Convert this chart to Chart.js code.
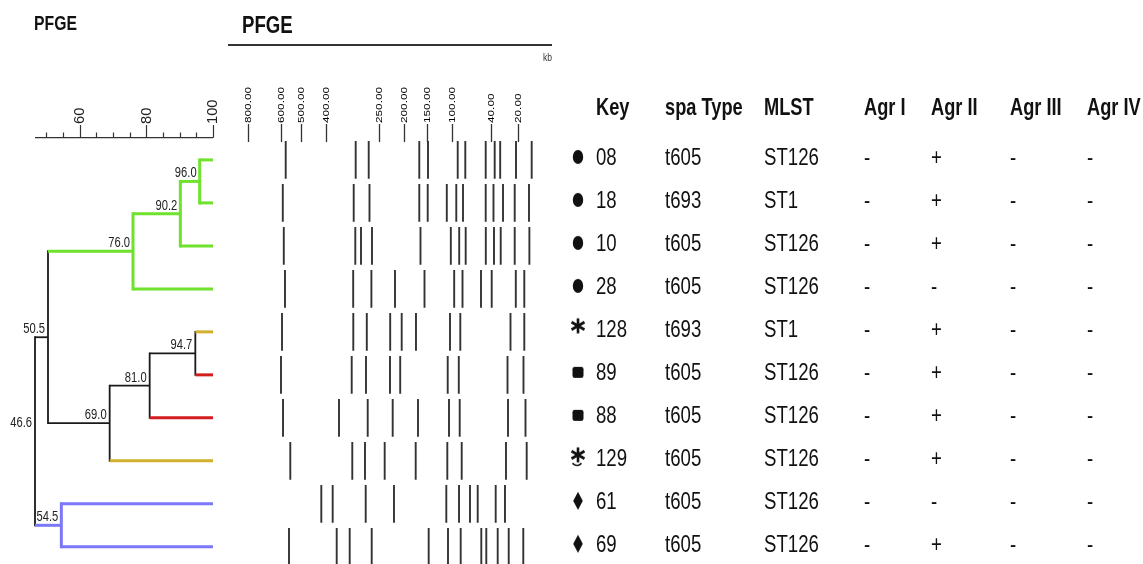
<!DOCTYPE html>
<html>
<head>
<meta charset="utf-8">
<script src="https://cdn.jsdelivr.net/npm/chart.js@4.4.1/dist/chart.umd.min.js"></script>
<style>
    html, body { margin: 0; padding: 0; background: #fff; }
    #wrap { position: relative; width: 1143px; height: 564px; overflow: hidden; }
    #wrap canvas { position: absolute; top: 0; }
</style>
</head>
<body>
<div id="wrap">
    <canvas id="tree" width="228" height="564" style="left:0"></canvas>
    <canvas id="gel" width="332" height="564" style="left:228px"></canvas>
    <canvas id="table" width="583" height="564" style="left:560px"></canvas>
</div>
<script>
// isolates, top to bottom (same order as the dendrogram leaves)
const isolateKeys = ["08", "18", "10", "28", "128", "89", "88", "129", "61", "69"];
const keySymbols = ["dot", "dot", "dot", "dot", "star", "square", "square", "starSmile", "diamond", "diamond"];
const spaTypes = ["t605", "t693", "t605", "t605", "t693", "t605", "t605", "t605", "t605", "t605"];
const mlstTypes = ["ST126", "ST1", "ST126", "ST126", "ST1", "ST126", "ST126", "ST126", "ST126", "ST126"];
const agrI = ["-", "-", "-", "-", "-", "-", "-", "-", "-", "-"];
const agrII = ["+", "+", "+", "-", "+", "+", "+", "+", "-", "+"];
const agrIII = ["-", "-", "-", "-", "-", "-", "-", "-", "-", "-"];
const agrIV = ["-", "-", "-", "-", "-", "-", "-", "-", "-", "-"];
const tableHeaders = ["Key", "spa Type", "MLST", "Agr I", "Agr II", "Agr III", "Agr IV"];

// dendrogram (UPGMA clusters, % similarity); numbers are leaf rows, strings are clusters
const clusterNames = ["c96", "c90", "c76", "c95", "c81", "c69", "c51", "c55", "c47"];
const clusterSimilarity = [96.0, 90.2, 76.0, 94.7, 81.0, 69.0, 50.5, 54.5, 46.6];
const clusterMembers = [[0, 1], ["c96", 2], ["c90", 3], [4, 5], ["c95", 6], ["c81", 7], ["c76", "c69"], [8, 9], ["c51", "c55"]];
const similarityLabels = [60, 80, 100];
const similarityMinorStep = 5;

// PFGE gel: marker sizes (kb) and their position along the lane (% of lane length)
const markerKb = [800, 600, 500, 400, 250, 200, 150, 100, 40, 20];
const markerPos = [6.27, 16.27, 22.62, 30.15, 46.60, 54.32, 61.51, 69.04, 81.17, 89.41];

// band positions per isolate (% of lane length)
const bandPos = [
    [17.81, 39.41, 43.43, 59.04, 61.73, 70.90, 73.24, 79.54, 82.31, 84.01, 88.89, 93.73],
    [16.91, 38.80, 43.67, 59.04, 61.64, 67.53, 70.46, 72.53, 79.54, 81.94, 84.88, 88.49, 92.90],
    [17.22, 39.29, 41.05, 44.44, 59.41, 68.77, 71.36, 73.36, 79.57, 82.10, 84.17, 88.49, 93.02],
    [17.59, 38.64, 44.26, 51.54, 60.65, 69.81, 72.38, 78.09, 81.39, 88.83, 91.45],
    [16.67, 38.67, 42.84, 50.06, 53.61, 58.02, 68.52, 71.70, 87.19, 91.45],
    [16.36, 38.18, 42.59, 50.00, 53.15, 67.81, 71.23, 86.27, 91.20],
    [16.98, 34.26, 43.12, 50.83, 58.64, 68.21, 71.51, 86.42, 91.82],
    [19.23, 38.36, 42.28, 48.36, 57.93, 67.69, 72.13, 85.80, 92.19],
    [28.80, 32.31, 42.50, 51.23, 67.38, 71.30, 74.69, 77.07, 82.62, 85.49],
    [18.83, 33.55, 37.56, 44.35, 61.94, 67.90, 71.82, 78.18, 79.72, 83.24, 86.64, 91.14]
];

// styles
const GREEN = "#6ee22c", GOLD = "#d2b02e", RED = "#d21e1e", BLUE = "#7b79f7", BLACK = "#1a1a1a";
const leafColors = [GREEN, GREEN, GREEN, GREEN, GOLD, RED, RED, GOLD, BLUE, BLUE];
const clusterColors = [GREEN, GREEN, GREEN, BLACK, BLACK, BLACK, BLACK, BLUE, BLACK];
const FONT = '"Liberation Sans", Arial, Helvetica, sans-serif';
const tableCols = [18, 36, 105, 204, 304, 371, 450, 527]; // symbol, key, spa, mlst, agr I-IV
const bandHalf = 0.44;

function text(ctx, str, x, y, o) {
    ctx.save();
    ctx.translate(x, y);
    if (o.rotate) ctx.rotate(-Math.PI / 2);
    ctx.scale(o.stretch || 1, 1);
    ctx.font = (o.bold ? "bold " : "") + o.size + "px " + FONT;
    ctx.fillStyle = o.color || "#111";
    ctx.textAlign = o.align || "left";
    ctx.textBaseline = o.baseline || "alphabetic";
    ctx.fillText(str, 0, 0);
    ctx.restore();
}

function rowScale() {
    return { type: "linear", min: -3.72, max: 9.4, reverse: true, display: false };
}

function makeChart(id, xMin, xMax, datasets, plugin) {
    return new Chart(document.getElementById(id), {
        type: "scatter",
        data: { datasets: datasets },
        options: {
            responsive: false,
            animation: false,
            events: [],
            layout: { padding: 0, autoPadding: false },
            plugins: { legend: { display: false }, tooltip: { enabled: false } },
            scales: {
                x: { type: "linear", min: xMin, max: xMax, display: false },
                y: rowScale()
            }
        },
        plugins: [plugin]
    });
}

// ---- dendrogram ----
const clusterY = [];
function memberInfo(m) {
    if (typeof m === "number") return { x: 100, y: m, color: leafColors[m] };
    const k = clusterNames.indexOf(m);
    return { x: clusterSimilarity[k], y: clusterY[k], color: clusterColors[k] };
}
const treeSets = [];
function segment(x1, y1, x2, y2, color, cap) {
    treeSets.push({
        data: [{ x: x1, y: y1 }, { x: x2, y: y2 }],
        showLine: true,
        borderColor: color,
        borderWidth: color === BLACK ? 1.8 : 3,
        borderCapStyle: cap,
        pointRadius: 0
    });
}
clusterMembers.forEach((pair, k) => {
    const a = memberInfo(pair[0]), b = memberInfo(pair[1]);
    const sim = clusterSimilarity[k];
    clusterY[k] = (a.y + b.y) / 2;
    segment(sim, a.y, a.x, a.y, a.color, "butt");
    segment(sim, b.y, b.x, b.y, b.color, "butt");
});
// verticals drawn last so the corners are closed
clusterMembers.forEach((pair, k) => {
    const a = memberInfo(pair[0]), b = memberInfo(pair[1]);
    segment(clusterSimilarity[k], a.y, clusterSimilarity[k], b.y, clusterColors[k], "square");
});

const treeDecor = {
    id: "treeDecor",
    afterDraw(chart) {
        const { ctx, scales: { x, y } } = chart;
        text(ctx, "PFGE", 34, 30, { size: 21, bold: true, stretch: 0.75 });
        const axisY = 137.7;
        const root = Math.min(...clusterSimilarity);
        ctx.save();
        ctx.strokeStyle = "#333";
        ctx.lineWidth = 1.2;
        ctx.beginPath();
        ctx.moveTo(x.getPixelForValue(root), axisY);
        ctx.lineTo(x.getPixelForValue(100), axisY);
        for (let v = 50; v <= 100; v += similarityMinorStep) {
            const px = Math.round(x.getPixelForValue(v)) + 0.5;
            const major = similarityLabels.includes(v);
            ctx.moveTo(px, axisY);
            ctx.lineTo(px, major ? 125 : 132.5);
        }
        ctx.stroke();
        ctx.restore();
        similarityLabels.forEach(v => {
            text(ctx, String(v), x.getPixelForValue(v) + 0.5, 124, { size: 14, rotate: true, stretch: 1.05, baseline: "middle", color: "#222" });
        });
        clusterSimilarity.forEach((s, k) => {
            text(ctx, s.toFixed(1), x.getPixelForValue(s) - 3, y.getPixelForValue(clusterY[k]) - 4,
                { size: 14, stretch: 0.8, align: "right", color: "#222" });
        });
    }
};
makeChart("tree", 36.1, 104.5, treeSets, treeDecor);

// ---- PFGE gel ----
const gelSets = bandPos.map((lane, row) => {
    const pts = [];
    lane.forEach(p => {
        pts.push({ x: p, y: row - bandHalf }, { x: p, y: row + bandHalf }, { x: p, y: null });
    });
    return { data: pts, showLine: true, spanGaps: false, borderColor: "#333", borderWidth: 1.9, borderCapStyle: "butt", pointRadius: 0 };
});

const gelDecor = {
    id: "gelDecor",
    afterDraw(chart) {
        const { ctx, scales: { x } } = chart;
        const x0 = x.getPixelForValue(0), x1 = x.getPixelForValue(100);
        text(ctx, "PFGE", x0 + 14, 33, { size: 23, bold: true, stretch: 0.81 });
        ctx.save();
        ctx.strokeStyle = "#333";
        ctx.lineWidth = 2;
        ctx.beginPath();
        ctx.moveTo(x0, 45);
        ctx.lineTo(x1, 45);
        ctx.stroke();
        ctx.lineWidth = 1.3;
        ctx.beginPath();
        markerPos.forEach(p => {
            const px = Math.round(x.getPixelForValue(p)) + 0.5;
            ctx.moveTo(px, 124);
            ctx.lineTo(px, 142);
        });
        ctx.stroke();
        ctx.restore();
        text(ctx, "kb", x1, 61, { size: 10, stretch: 0.85, align: "right", color: "#333" });
        markerKb.forEach((kb, i) => {
            text(ctx, kb.toFixed(2), Math.round(x.getPixelForValue(markerPos[i])) + 0.5, 123,
                { size: 9.5, rotate: true, stretch: 1.24, baseline: "middle", color: "#000" });
        });
    }
};
makeChart("gel", 0, 332 / 3.24, gelSets, gelDecor);

// ---- key / typing table ----
function symbolImage(kind) {
    const c = document.createElement("canvas");
    c.width = 26; c.height = 32;
    const g = c.getContext("2d");
    const cx = 13, cy = 13; // 3px above the row centre
    g.fillStyle = "#111";
    g.strokeStyle = "#111";
    if (kind === "dot") {
        g.beginPath();
        g.ellipse(cx, cy, 5.2, 7, 0, 0, Math.PI * 2);
        g.fill();
    } else if (kind === "square") {
        g.beginPath();
        g.roundRect(cx - 5.5, cy - 5, 11, 11, 2.2);
        g.fill();
    } else if (kind === "diamond") {
        g.beginPath();
        g.moveTo(cx, cy - 9);
        g.lineTo(cx + 4.8, cy);
        g.lineTo(cx, cy + 9);
        g.lineTo(cx - 4.8, cy);
        g.closePath();
        g.fill();
    } else {
        const sy = cy - 3;
        g.lineWidth = 2.6;
        g.beginPath();
        for (let a = 0; a < 3; a++) {
            const ang = Math.PI / 2 + a * Math.PI / 3;
            g.moveTo(cx + Math.cos(ang) * 7.5, sy + Math.sin(ang) * 7.5);
            g.lineTo(cx - Math.cos(ang) * 7.5, sy - Math.sin(ang) * 7.5);
        }
        g.stroke();
        if (kind === "starSmile") {
            g.lineWidth = 1.5;
            g.beginPath();
            g.arc(cx - 1, sy + 5, 5.5, 0.2 * Math.PI, 0.8 * Math.PI);
            g.stroke();
        }
    }
    return c;
}
const symbolImages = {};
["dot", "star", "square", "starSmile", "diamond"].forEach(k => { symbolImages[k] = symbolImage(k); });

const tableSets = [{
    data: isolateKeys.map((k, i) => ({ x: tableCols[0], y: i })),
    pointStyle: keySymbols.map(s => symbolImages[s]),
    pointRadius: 5
}];

const tableDecor = {
    id: "tableDecor",
    afterDraw(chart) {
        const { ctx, scales: { x, y } } = chart;
        const headY = y.getPixelForValue(-1) - 2;
        tableHeaders.forEach((h, c) => {
            text(ctx, h, x.getPixelForValue(tableCols[c + 1]), headY, { size: 24, bold: true, stretch: 0.76 });
        });
        const columns = [isolateKeys, spaTypes, mlstTypes, agrI, agrII, agrIII, agrIV];
        isolateKeys.forEach((k, i) => {
            const base = y.getPixelForValue(i) + 5.3;
            columns.forEach((col, c) => {
                text(ctx, col[i], x.getPixelForValue(tableCols[c + 1]), base, { size: 23, stretch: 0.81 });
            });
        });
    }
};
makeChart("table", 0, 583, tableSets, tableDecor);
</script>
</body>
</html>
